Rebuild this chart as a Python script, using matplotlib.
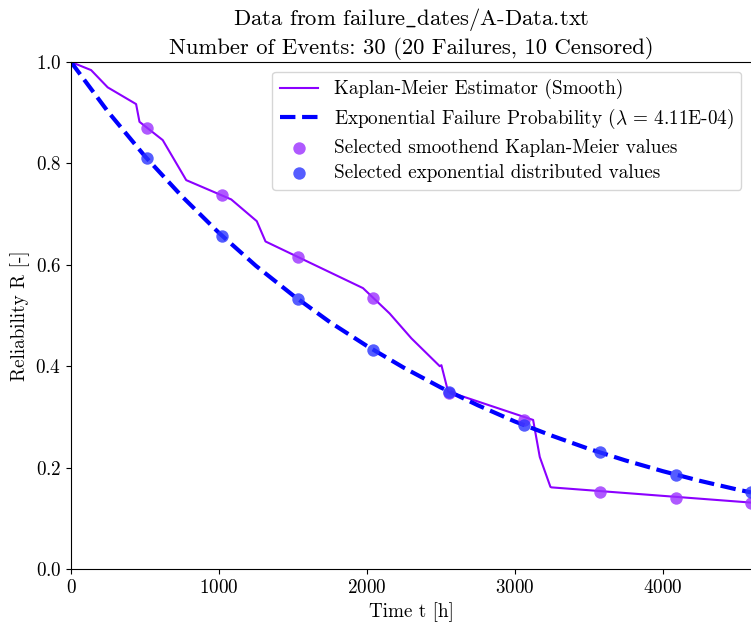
import matplotlib
matplotlib.use("Agg")
import matplotlib.pyplot as plt

plt.rcParams["font.family"] = ["cmr10", "DejaVu Serif"]
plt.rcParams["mathtext.fontset"] = "cm"
plt.rcParams["axes.formatter.use_mathtext"] = True
plt.rcParams["axes.unicode_minus"] = False

# Kaplan-Meier (smoothed) vertices
km_t = [0, 136, 248, 440, 463, 620, 779, 1083, 1256, 1315, 1974, 2154, 2301, 2493,
        2504, 2549, 3124, 3169, 3241, 3248, 4597]
km_r = [1.000, 0.984, 0.950, 0.917, 0.882, 0.846, 0.767, 0.729, 0.686, 0.646, 0.554,
        0.504, 0.455, 0.400, 0.402, 0.350, 0.294, 0.221, 0.162, 0.161, 0.131]

# exponential reliability curve (lambda = 4.11E-04)
exp_t = [0, 250, 500, 750, 1000, 1250, 1500, 1750, 2000, 2250, 2500, 2750, 3000,
         3250, 3500, 3750, 4000, 4250, 4500, 4597]
exp_r = [1.000, 0.902, 0.814, 0.735, 0.663, 0.598, 0.540, 0.487, 0.440, 0.397, 0.358,
         0.323, 0.291, 0.263, 0.237, 0.214, 0.193, 0.174, 0.157, 0.151]

# selected points
sel_t = [511, 1022, 1532, 2043, 2554, 3065, 3576, 4087, 4597]
sel_km = [0.869, 0.738, 0.615, 0.534, 0.348, 0.294, 0.152, 0.141, 0.131]
sel_exp = [0.811, 0.657, 0.533, 0.432, 0.350, 0.284, 0.230, 0.186, 0.151]

fs = 13.8

fig = plt.figure(figsize=(7.51, 6.30), dpi=100)
ax = fig.add_axes([71 / 751, 61 / 630, 680 / 751, 507 / 630])

ax.plot(km_t, km_r, color="#8B00FF", lw=1.5, label="Kaplan-Meier Estimator (Smooth)")
ax.plot(exp_t, exp_r, color="blue", lw=3, ls="--",
        label=r"Exponential Failure Probability ($\lambda$ = 4.11E-04)")
ax.scatter(sel_t, sel_km, s=80, color="#9B30FF", alpha=0.8, lw=0, zorder=3,
           label="Selected smoothend Kaplan-Meier values", clip_on=False)
ax.scatter(sel_t, sel_exp, s=80, color="#2B35FF", alpha=0.8, lw=0, zorder=3,
           label="Selected exponential distributed values", clip_on=False)

ax.set_xlim(0, 4597)
ax.set_ylim(0, 1.0)
ax.spines["right"].set_visible(False)
ax.set_xticks([0, 1000, 2000, 3000, 4000])
ax.set_yticks([0.0, 0.2, 0.4, 0.6, 0.8, 1.0])
ax.tick_params(labelsize=fs)
ax.set_xlabel("Time t [h]", fontsize=fs)
ax.set_ylabel("Reliability R [-]", fontsize=fs)
ax.set_title("Data from failure$\\_$dates/A-Data.txt\n"
             "Number of Events: 30 (20 Failures, 10 Censored)", fontsize=16.3)
ax.legend(loc="upper right", fontsize=fs, labelspacing=0.4)

fig.savefig("out.png", dpi=100)
